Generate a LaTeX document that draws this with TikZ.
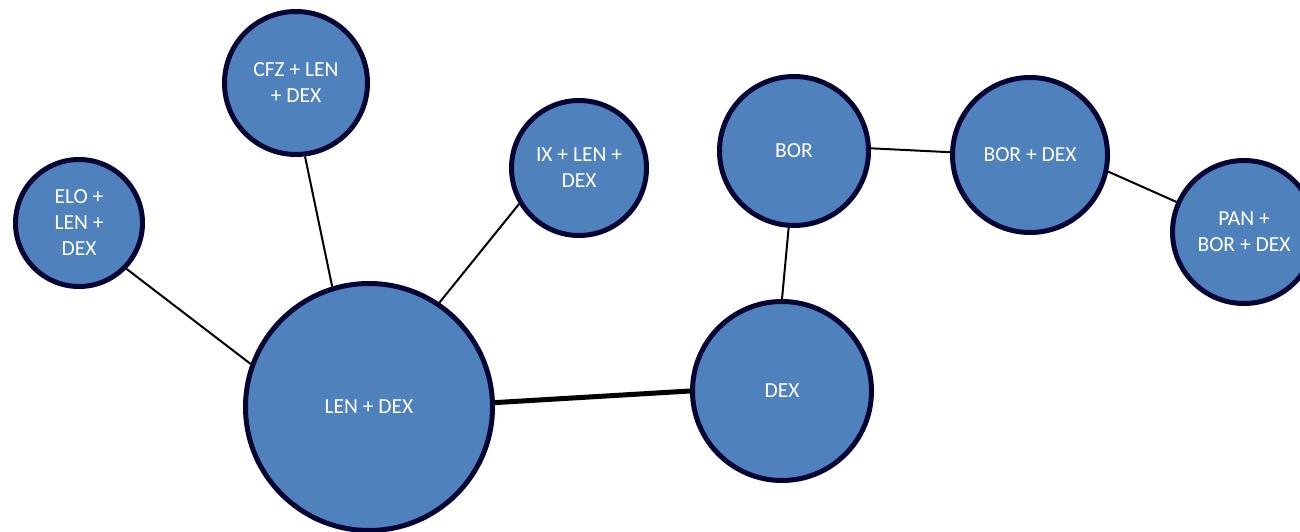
\documentclass[tikz,border=0pt]{standalone}
\usepackage{fontspec}
\setmainfont{Carlito}
\definecolor{nodefill}{HTML}{4F81BD}
\definecolor{nodeedge}{HTML}{050535}
\begin{document}
\begin{tikzpicture}[x=1pt,y=-1pt,
  bub/.style={circle,draw=nodeedge,line width=5pt,fill=nodefill,text=white,align=center,font=\fontsize{21.5}{26}\selectfont,inner sep=0pt},
  link/.style={line width=2pt,black},
  strong link/.style={line width=5pt,black}]
\useasboundingbox (0,0) rectangle (1300,532);
\clip (0,0) rectangle (1300,532);
\node[bub,minimum size=247pt] (len) at (369,407) {LEN + DEX};
\node[bub,minimum size=127pt] (elo) at (79,223) {ELO +\\LEN +\\DEX};
\node[bub,minimum size=143pt] (cfz) at (296,83) {CFZ + LEN\\+ DEX};
\node[bub,minimum size=135pt] (ix) at (579,168) {IX + LEN +\\DEX};
\node[bub,minimum size=179pt] (dex) at (782,391) {DEX};
\node[bub,minimum size=149pt] (bor) at (794,151) {BOR};
\node[bub,minimum size=155pt] (bordex) at (1030,155) {BOR + DEX};
\node[bub,minimum size=143pt] (pan) at (1244,232) {PAN +\\BOR + DEX};
\draw[link] (elo.-44) -- (len.160);
\draw[link] (cfz.-83) -- (len.107);
\draw[link] (ix.211) -- (len.56);
\draw[strong link] (len.2) -- (dex.180);
\draw[link] (dex.90) -- (bor.-94);
\draw[link] (bor.2) -- (bordex.178);
\draw[link] (bordex.-12) -- (pan.156);
\end{tikzpicture}
\end{document}
